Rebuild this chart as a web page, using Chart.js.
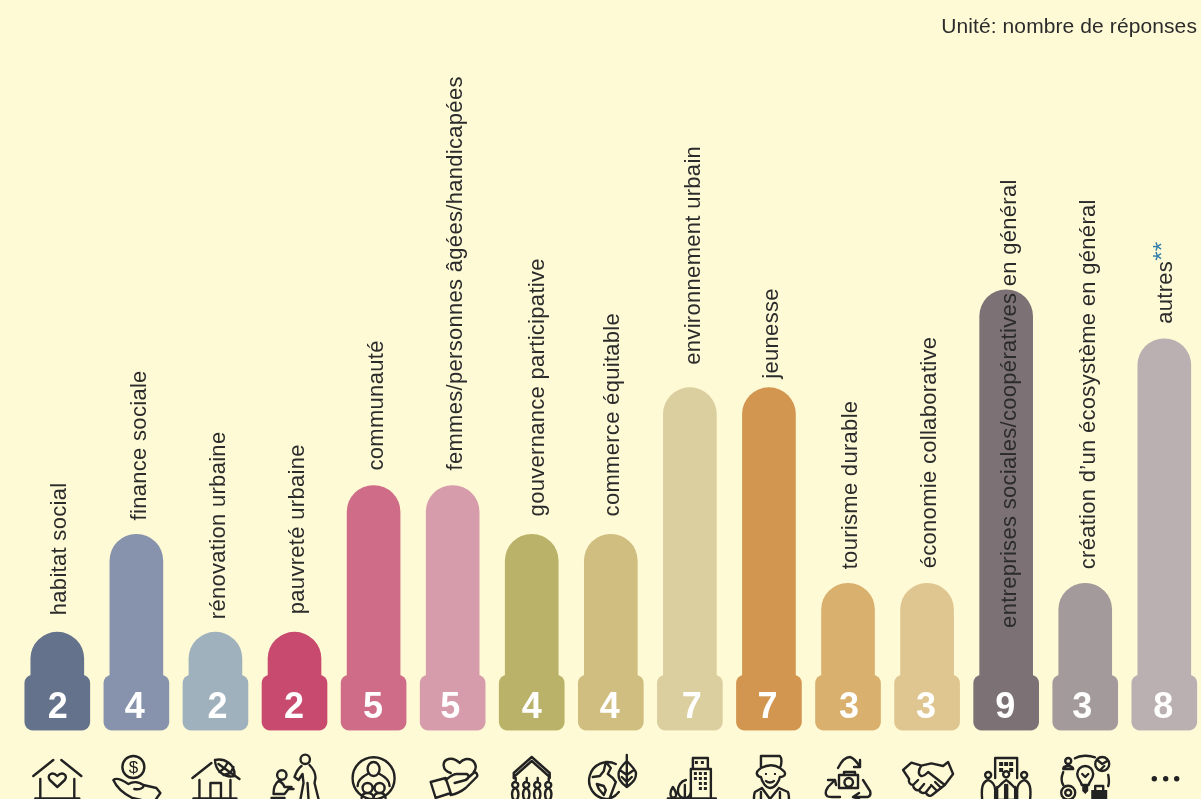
<!DOCTYPE html>
<html lang="fr">
<head>
<meta charset="UTF-8">
<title>Unité: nombre de réponses</title>
<script src="https://cdn.jsdelivr.net/npm/chart.js"></script>
<style>
    html, body { margin: 0; padding: 0; background: #fffad6; overflow: hidden; }
    canvas { display: block; }
</style>
</head>
<body>
<canvas id="chart" width="1201" height="799"></canvas>
<script>
// data
var categories = ["habitat social", "finance sociale", "rénovation urbaine", "pauvreté urbaine", "communauté",
    "femmes/personnes âgées/handicapées", "gouvernance participative", "commerce équitable", "environnement urbain",
    "jeunesse", "tourisme durable", "économie collaborative", "entreprises sociales/coopératives en général",
    "création d’un écosystème en général", "autres"];
var values = [2, 4, 2, 2, 5, 5, 4, 4, 7, 7, 3, 3, 9, 3, 8];
var colors = ["#64728c", "#8793ad", "#9fb1bc", "#c84b6f", "#cf6c87", "#d79cab", "#b9b268", "#cfbe7f",
    "#dbce9f", "#d29651", "#dab06e", "#dfc690", "#7c7276", "#a39a9b", "#bab0b1"];

// layout tweaks, the labels in the original are hand placed
var labelGap = [17, 14, 13, 18, 15, 15, 18, 18, 23, 9, 14, 15, -338, 14, 15];
var labelShift = [8.7, 9.2, 9.2, 9.5, 9.9, 9.2, 11.9, 8.5, 9.9, 8.8, 8.5, 9.1, 10.3, 10.2, 7.8];
var numberShift = [0.5, -1.5, 2, -0.5, -0.5, -2.5, 0, -1, 2, -1.5, 1, -1, -1, -3, -1];
var badgeTop = 1.12;

// icons, local coords: x from the bar centre, y from 780
var icons = [
    { s: "M-24 -4L-4 -20M4 -20L24 -4M-17 -1V17M17 -1V17M-22 18.5H22M0 7L-7.5 0C-11 -5 -5 -9 0 -4C5 -9 11 -5 7.5 0Z" },
    { s: "M-14 -13a11 11 0 1 0 22 0a11 11 0 1 0 -22 0M-23 0C-20 -3 -14 0 -8 4C-3 1 3 2 7 5L20 8L24 13L19 20M-23 0C-20 7 -12 14 -4 18L5 20M7 5C8 8 3 10 -2 9", t: "$" },
    { s: "M-23 -2L-4 -17M-16 0V18M15 0V18M-22 18.5H21M-5 18V3H5.5V18M-.5 -20C9 -22 20 -16 19 -4C10 -2 0 -8 -.5 -20ZM3 -16L24 -1M9 -12L12 -17M9 -12L4 -8M15 -7L18 -13M15 -7L8 -5" },
    { s: "M6 -20.7a4.7 4.7 0 1 0 9.4 0a4.7 4.7 0 1 0 -9.4 0M7 -14C3 -11 1 -6 0 -3L4 0L8 -6L9 3L6 19M15 -15C19 -11 21 -6 21 -2L20 3L24 19M13 3L14 19M-17.4 -5a4.7 4.7 0 1 0 9.4 0a4.7 4.7 0 1 0 -9.4 0M-16 1C-20 4 -21 10 -21 14H-10L-6 9H-1M-16 1C-13 2 -11 4 -10 7L-3 7M-23 18H-10" },
    { s: "M-21 -1.7a21 21 0 1 0 42 0a21 21 0 1 0 -42 0M-6 -11a6 7 0 1 0 12 0a6 7 0 1 0 -12 0M-6 -6C-12 -3 -16 0 -16 6M6 -6C12 -3 16 0 16 6M-11 8a5 5 0 1 0 10 0a5 5 0 1 0 -10 0M1 8a5 5 0 1 0 10 0a5 5 0 1 0 -10 0M-12 18C-12 14 -9 13 -6 13C-2 13 0 15 0 18M0 18C0 15 2 13 6 13C9 13 12 14 12 18" },
    { s: "M-22 2L-7 -2L-2 13L-17 18ZM-7 0C-3 -3 0 -6 4 -6H14C17 -5 16 -1 13 0L2 3M13 0L22 -8C25 -7 25 -4 24 -3L13 8C8 12 3 14 -2 15M-2 -7C-11 -10 -11 -19 -4 -21C0 -22 4 -20 7 -17C10 -21 15 -22 19 -20C24 -17 24 -11 21 -8" },
    { s: "M-18 -7L0 -23L18 -7M-18 -3L0 -19L18 -3M-18 -6V-2M18 -6V-2M-16 -2V2M-5 -2V2M6 -2V2M17 -2V2M-19.5 5a3 3 0 1 0 6 0a3 3 0 1 0 -6 0M-8.5 5a3 3 0 1 0 6 0a3 3 0 1 0 -6 0M2.5 5a3 3 0 1 0 6 0a3 3 0 1 0 -6 0M13.5 5a3 3 0 1 0 6 0a3 3 0 1 0 -6 0M-16.5 8C-21 10 -20 17 -18 20H-15C-13 17 -12 10 -16.5 8M-5.5 8C-10 10 -9 17 -7 20H-4C-2 17 -1 10 -5.5 8M5.5 8C1 10 2 17 4 20H7C9 17 10 10 5.5 8M16.5 8C12 10 13 17 15 20H18C20 17 21 10 16.5 8" },
    { s: "M8 12C4 17 -1 19 -5 19A18.5 18.5 0 1 1 5 -16M-5 -18L-7 -9L-11 -4L-18 -3M-5 -18L0 -12L-3 -6L2 -2L5 2L2 10L-1 18M-7 6L-14 4L-12 9L-7 15L-5 10ZM16 -25V7M16 7C9 2 7 -2 8 -8C9 -12 13 -16 16 -19C19 -16 23 -12 25 -8C26 -2 23 2 16 7ZM16 -5L9 -10M16 -5L23 -10M16 2L11 -3M16 2L21 -3" },
    { s: "M1 17V-11H21V18M3 -11V-22H18V-11M-22 18.5H26M-4 0C-9 1 -12 6 -12 11C-12 15 -9 18 -5 18C-1 18 1 14 1 11M-5 18V5M-17 7C-19 10 -20 13 -19 16C-18 18 -15 18 -14 16C-13 13 -15 10 -17 7Z", f: "M5 -19h3v3h-3zM11 -19h3v3h-3zM4 -8h3v3h-3zM9 -8h3v3h-3zM14 -8h3v3h-3zM4 -3h3v3h-3zM9 -3h3v3h-3zM14 -3h3v3h-3zM9 2h3v3h-3zM14 2h3v3h-3zM9 7h3v3h-3zM14 7h3v3h-3z" },
    { s: "M-8 -12V-24H11C13 -22 13 -16 11 -12C5 -16 -2 -15 -8 -12M-8 -12C-10 -10 -13 -9 -12 -6C-11 -3 -9 -3 -8 -3C-7 2 -3 8 1 8C6 8 10 2 11 -3C13 -3 16 -4 16 -6C17 -9 13 -10 11 -12M-3 1C-1 3 3 3 5 1M-7 8L-14 12C-15 14 -15 18 -15 20M10 8L19 12C20 14 20 18 20 20M-7 8L1 19L10 8M-8 12V20M11 12V20", f: "M-4 -7h2v2h-2zM5 -7h2v2h-2z" },
    { s: "M-10 -12C-7 -18 -3 -23 2 -23C6 -22 9 -18 12 -13M12 -20V-13H6M-13 0L-20 7C-22 10 -23 14 -21 16C-20 17 -18 17 -16 17H-8M-20 0H-13L-12 5M15 0L22 11C23 14 22 16 20 17H7M11 13L5 17L11 19M-9 -5H10V8H-9ZM-4 -5V-8H7V-5M-3.6 2.3a4.3 4.3 0 1 0 8.6 0a4.3 4.3 0 1 0 -8.6 0" },
    { s: "M-24 -10L-15.7 -17.3L-5.7 -14.3L4.3 -16.7L16 -14L21 -18L26 -6L17.7 5L5 15C3 17 -1 15 -1 12C-3 14 -7 13 -8 10C-11 11 -14 8 -14 5C-17 5 -19 2 -18 -1ZM-5.7 -14.3C-9 -10 -9 -5 -6 -4C-3 -3 -1 -6 1 -8L17.7 5M-14 5L-9 0M-8 10L-3 4M-1 12L3 7M10 11L4 5M14 8L8 2" },
    { s: "M-11 -2V-22H11V-2M-24 19C-25 8 -24 2 -18 0C-13 2 -11 6 -11 10V19M24 19C25 8 24 2 18 0C13 2 11 6 11 10V19M-11 10C-8 8 -5 3 0 0C5 3 8 8 11 10M-9 7V20H-1M9 7V20H1M-1 5V20M1 5V20M-21 -5a3 3 0 1 0 6 0a3 3 0 1 0 -6 0M-3 -5.7a3 3 0 1 0 6 0a3 3 0 1 0 -6 0M15 -5a3 3 0 1 0 6 0a3 3 0 1 0 -6 0", f: "M-7 -18h4v4h-4zM-2 -18h4v4h-4zM3 -18h4v4h-4zM-7 -12h4v4h-4zM3 -12h4v4h-4z" },
    { s: "M-10.3 -21.7C-5 -25 4 -25 9.7 -22.7M-22 -8C-24 -3 -24 2 -22 5M23 -5C24 0 24 3 23 6M-20 -19a3 3 0 1 0 6 0a3 3 0 1 0 -6 0M-22 -11C-22 -15 -12 -15 -12 -11ZM10 -16a7 7 0 1 0 14 0a7 7 0 1 0 -14 0M12 -20L17 -16L22 -19M15 -10L19 -14M-3.5 5C-4 1 -8 -1 -8 -6A8 8 0 1 1 8 -6C8 -1 4 1 3.5 5ZM-3 -6L0 -3L3 -6M-24 12.7a7 7 0 1 0 14 0a7 7 0 1 0 -14 0M-20 12.7a3 3 0 1 0 6 0a3 3 0 1 0 -6 0M10 10V6H18V10", f: "M-3 6h6v5l-3 3l-3 -3zM6 10h16v10h-16z" },
    { f: "M-12.7 -1.3a2.7 2.7 0 1 0 5.4 0a2.7 2.7 0 1 0 -5.4 0M-1.3 -1.3a2.7 2.7 0 1 0 5.4 0a2.7 2.7 0 1 0 -5.4 0M9.7 -1.3a2.7 2.7 0 1 0 5.4 0a2.7 2.7 0 1 0 -5.4 0" }
];

var textColor = "#2b2b2b";
var labelFont = "22px 'Liberation Sans'";

// rotated labels, numbers in the badges, unit text and icons
var decorations = {
    id: "decorations",
    afterDatasetsDraw: function(chart) {
        var ctx = chart.ctx;
        var xs = chart.scales.x;
        var ys = chart.scales.y;

        categories.forEach(function(name, i) {
            var x = xs.getPixelForValue(i);

            ctx.save();
            ctx.translate(x + labelShift[i], ys.getPixelForValue(values[i]) - labelGap[i]);
            ctx.rotate(-Math.PI / 2);
            ctx.font = labelFont;
            ctx.letterSpacing = "0.3px";
            ctx.fillStyle = textColor;
            ctx.textAlign = "left";
            ctx.textBaseline = "alphabetic";
            ctx.fillText(name, 0, 0);
            if (name === "autres") {
                // blue footnote mark, raised like a superscript
                var w = ctx.measureText(name).width;
                ctx.font = "24px 'Liberation Sans'";
                ctx.fillStyle = "#2f7ba8";
                ctx.fillText("**", w, -2);
            }
            ctx.restore();

            ctx.save();
            ctx.font = "bold 36px 'Liberation Sans'";
            ctx.fillStyle = "#ffffff";
            ctx.textAlign = "center";
            ctx.textBaseline = "alphabetic";
            ctx.fillText(String(values[i]), x + numberShift[i], 718);
            ctx.restore();

            ctx.save();
            ctx.translate(x, 780);
            ctx.strokeStyle = "#222222";
            ctx.fillStyle = "#222222";
            ctx.lineWidth = 2.4;
            ctx.lineCap = "round";
            ctx.lineJoin = "round";
            if (icons[i].s) ctx.stroke(new Path2D(icons[i].s));
            if (icons[i].f) ctx.fill(new Path2D(icons[i].f));
            if (icons[i].t) {
                ctx.font = "17px 'Liberation Sans'";
                ctx.textAlign = "center";
                ctx.fillText(icons[i].t, -3, -7);
            }
            ctx.restore();
        });

        ctx.save();
        ctx.font = "21px 'Liberation Sans'";
        ctx.letterSpacing = "0.1px";
        ctx.fillStyle = textColor;
        ctx.textAlign = "right";
        ctx.textBaseline = "alphabetic";
        ctx.fillText("Unité: nombre de réponses", 1197, 33);
        ctx.restore();
    }
};

new Chart(document.getElementById("chart"), {
    type: "bar",
    data: {
        labels: categories,
        datasets: [
            {
                data: values,
                backgroundColor: colors,
                barThickness: 53,
                borderRadius: { topLeft: 26.5, topRight: 26.5, bottomLeft: 0, bottomRight: 0 },
                borderSkipped: "bottom",
                clip: false
            },
            {
                data: values.map(function() { return [0, badgeTop]; }),
                backgroundColor: colors,
                barThickness: 65,
                borderRadius: 8,
                borderSkipped: false,
                clip: false
            }
        ]
    },
    options: {
        responsive: false,
        animation: false,
        layout: { padding: { left: 57.3, right: 36.7, top: 45.4, bottom: 69 } },
        plugins: { legend: { display: false }, tooltip: { enabled: false } },
        scales: {
            x: { display: false, offset: false, stacked: false },
            y: { display: false, min: 0, max: 14 }
        },
        datasets: { bar: { grouped: false } }
    },
    plugins: [decorations]
});
</script>
</body>
</html>
